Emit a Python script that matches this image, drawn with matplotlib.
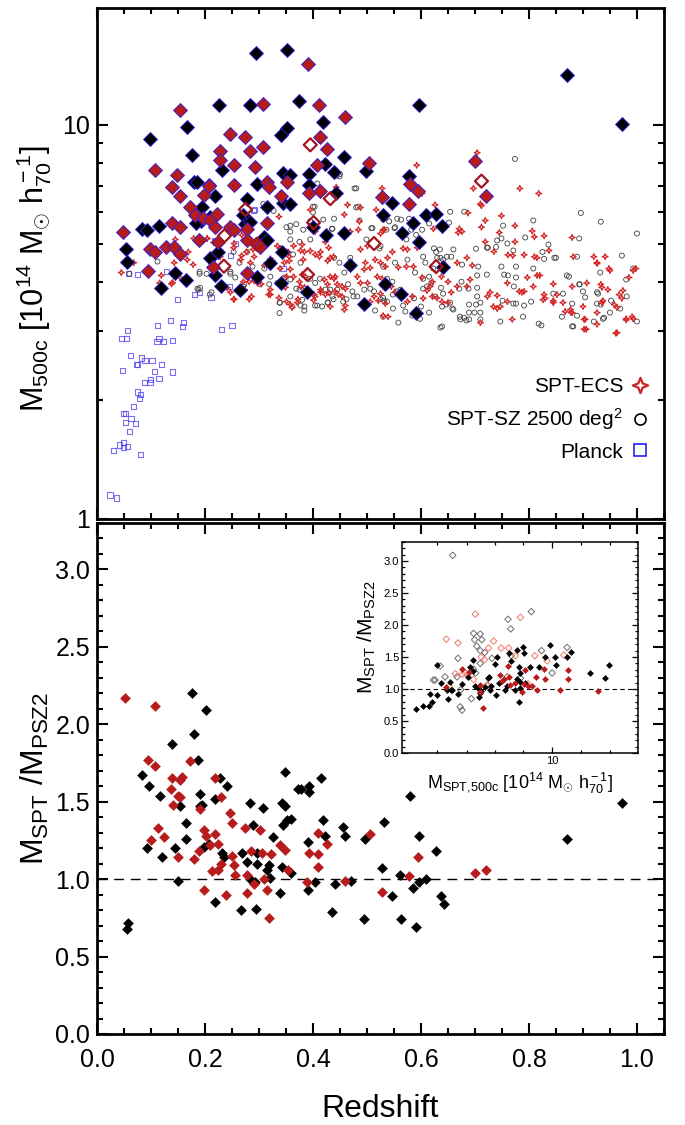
import numpy as np
import matplotlib
matplotlib.use('Agg')
import matplotlib.pyplot as plt
from matplotlib.path import Path
from matplotlib.lines import Line2D
from matplotlib.ticker import MultipleLocator, FormatStrFormatter, NullFormatter

# --- data ---------------------------------------------------------------
# top panel: (redshift, M500c) for the small markers
planck = [(0.024,1.15),(0.036,1.13),(0.030,1.49),(0.041,1.54),(0.049,1.52),(0.049,1.56),(0.056,1.53),
          (0.081,1.46),(0.060,1.67),(0.053,1.76),(0.063,1.80),(0.071,1.75),(0.049,1.85),(0.053,1.85),
          (0.068,1.93),(0.075,2.10),(0.081,2.07),(0.079,2.02),(0.088,2.22),(0.098,2.22),(0.099,2.26),
          (0.115,2.27),(0.106,2.37),(0.140,2.36),(0.047,2.38),(0.062,2.60),(0.073,2.47),(0.075,2.47),
          (0.082,2.56),(0.089,2.53),(0.102,2.53),(0.119,2.47),(0.045,2.87),(0.054,2.87),(0.057,3.01),
          (0.111,2.82),(0.115,2.87),(0.123,2.82),(0.140,2.84),(0.112,3.10),(0.136,3.19),(0.158,3.08),
          (0.160,3.15),(0.230,3.03),(0.250,3.10),(0.149,3.60),(0.180,3.71),(0.190,3.75),(0.211,3.65),
          (0.059,4.19),(0.075,4.17),(0.128,4.24),(0.246,3.89),(0.247,4.67),(0.256,5.0),(0.292,6.1),
          (0.345,4.32),(0.297,4.03),(0.290,6.05),(0.218,5.1)]

spt_sz = [(0.774,8.2),(0.896,5.98),(0.933,5.68),(1.0,5.3),(0.654,6.02),(0.680,6.02),(0.652,5.65),
          (0.808,5.72),(0.752,5.55),(0.893,5.15),(0.793,5.18),(0.749,5.15),(0.741,5.09),(0.760,5.0),
          (0.722,4.88),(0.702,4.85),(0.836,4.97),(0.825,4.76),(0.847,4.6),(0.850,4.6),(0.889,4.63),
          (0.972,4.66),(0.808,4.32),(0.828,4.57),(0.749,4.37),(0.776,4.37),(0.754,4.17),(0.761,4.15),
          (0.776,4.1),(0.772,3.89),(0.776,3.52),(0.771,3.52),(0.706,4.37),(0.704,4.15),(0.722,4.17),
          (0.660,4.83),(0.648,4.63),(0.641,4.55),(0.676,4.42),(0.624,4.86),(0.630,4.6),(0.656,4.63),
          (0.675,4.0),(0.671,3.84),(0.688,3.84),(0.704,3.86),(0.704,3.67),(0.710,3.54),(0.702,3.5),
          (0.689,3.5),(0.710,3.34),(0.699,3.34),(0.689,3.34),(0.680,3.24),(0.689,3.21),(0.672,3.26),
          (0.660,3.4),(0.647,3.5),(0.639,3.46),(0.639,3.08),(0.615,3.34),(0.600,3.46),(0.587,3.63),
          (0.611,3.89),(0.619,3.97),(0.604,3.84),(0.637,3.86),(0.623,4.32),(0.636,4.6),(0.791,3.48),
          (0.804,3.56),(0.818,3.13),(0.823,3.1),(0.861,3.26),(0.863,3.73),(0.880,3.52),(0.880,3.08),
          (0.894,3.94),(0.900,3.78),(0.926,3.76),(0.926,3.52),(0.933,3.5),(0.952,3.58),(0.950,3.34),
          (0.939,3.24),(0.981,3.67),(1.0,3.17),(0.969,3.42),(0.932,4.22),(0.874,4.12),(0.558,3.15),
          (0.598,3.22),(0.571,3.36),(0.584,3.28),(0.567,3.48),(0.548,3.42),(0.537,3.56),(0.530,3.64),
          (0.552,5.5),(0.541,5.69),(0.534,5.8),(0.591,5.26),(0.573,5.12),(0.575,4.55),(0.552,4.47),
          (0.530,4.37),(0.589,4.22),(0.604,4.07),(0.615,4.12),(0.562,3.82),(0.554,3.78),(0.548,3.71),
          (0.537,4.07),(0.547,4.0),(0.604,4.63),(0.608,4.47),(0.626,3.67),(0.641,3.73),(0.654,3.54),
          (0.658,3.42),(0.636,3.06),(0.673,3.21),(0.684,3.19),(0.710,3.21),(0.747,3.17),(0.789,3.26),
          (0.882,3.08),(0.920,3.17),(0.937,3.22),(0.889,3.28),(0.904,3.65),(0.928,3.73),(0.893,3.94),
          (0.980,4.05),(0.993,4.32),(0.870,4.15),(0.845,3.73),(0.751,3.58),
          (0.060,4.19),(0.112,4.5),(0.203,4.19),(0.190,4.19),(0.186,3.84),(0.191,3.86),(0.212,3.76),
          (0.247,4.19),(0.256,4.1),(0.264,4.47),(0.288,4.37),(0.297,4.12),(0.310,4.32),(0.321,4.12),
          (0.319,3.94),(0.339,3.54),(0.347,4.1),(0.358,4.05),(0.369,3.84),(0.375,3.82),(0.351,5.5),
          (0.358,5.36),(0.369,5.6),(0.375,5.05),(0.395,5.7),(0.403,6.2),(0.408,7.1),(0.439,5.78),
          (0.436,5.45),(0.449,7.4),(0.477,6.9),(0.486,5.72),(0.508,5.47),(0.499,5.12),(0.525,4.93),
          (0.523,4.86),(0.439,4.6),(0.449,4.47),(0.469,4.6),(0.458,4.22),(0.465,3.94),(0.445,3.82),
          (0.432,3.82),(0.473,3.78),(0.475,3.67),(0.482,3.67),(0.495,3.82),(0.506,3.84),(0.513,3.78),
          (0.525,3.61),(0.532,3.58),(0.515,3.38),(0.530,3.26),(0.456,3.56),(0.462,3.61),(0.427,3.54),
          (0.436,3.67),(0.380,3.6),(0.377,3.48),(0.384,3.38),(0.408,3.48),(0.362,3.46),(0.302,3.94),
          (0.273,3.94),(0.271,3.89),(0.404,3.97),(0.413,4.07),(0.423,3.82),(0.395,4.07),(0.334,3.97),
          (0.19,4.24),(0.247,4.24),(0.188,3.82),(0.209,3.71),(0.338,3.54),(0.358,3.67),(0.384,3.46),
          (0.404,3.48),(0.417,3.46),(0.428,3.54),(0.438,3.61),(0.338,3.33),(0.308,6.3),(0.327,6.05),
          (0.358,5.55),(0.400,6.2),(0.400,6.0),(0.419,5.75),(0.435,5.45),(0.444,7.44),(0.382,5.42),
          (0.395,5.12),(0.358,5.12),(0.253,4.76),(0.278,4.76),(0.307,4.93),(0.352,4.76),(0.363,4.69),
          (0.377,4.47),(0.45,7.5),(0.48,6.9),(0.48,6.17),(0.483,6.2),(0.51,5.47),(0.53,5.75),
          (0.556,5.78),(0.563,5.75),(0.578,5.78),(0.536,5.42),(0.551,5.47),(0.582,5.42),(0.602,5.42),
          (0.615,5.62),(0.771,4.8),(0.739,4.9),(0.724,4.88),(0.635,4.83),(0.628,4.76)]

spt_ecs = [(0.045,4.22),(0.068,4.47),(0.119,4.15),(0.116,3.97),(0.143,4.47),(0.167,4.55),(0.169,4.76),
           (0.178,4.42),(0.145,5.12),(0.154,4.1),(0.138,3.95),(0.204,5.15),(0.223,4.76),(0.228,4.63),
           (0.214,4.5),(0.254,5.0),(0.268,5.26),(0.277,4.76),(0.266,4.55),(0.284,4.47),(0.291,4.63),
           (0.282,4.0),(0.291,4.02),(0.297,3.97),(0.254,3.61),(0.282,3.61),(0.286,3.67),(0.304,3.95),
           (0.310,4.4),(0.315,4.44),(0.321,4.57),(0.325,4.52),(0.334,4.93),(0.337,5.85),(0.339,4.86),
           (0.354,4.76),(0.356,4.63),(0.321,3.82),(0.321,3.71),(0.337,3.64),(0.356,4.52),(0.358,4.3),
           (0.351,4.12),(0.347,3.97),(0.364,4.12),(0.375,4.0),(0.377,3.89),(0.384,3.87),(0.382,4.55),
           (0.384,4.76),(0.395,4.79),(0.404,4.69),(0.395,6.09),(0.404,5.36),(0.412,4.63),(0.423,5.05),
           (0.427,4.52),(0.432,4.6),(0.432,4.12),(0.439,4.07),(0.441,4.12),(0.421,4.05),(0.427,3.94),
           (0.445,3.94),(0.454,3.89),(0.460,3.84),(0.414,3.82),(0.430,3.75),(0.447,3.71),(0.454,3.67),
           (0.460,3.48),(0.458,3.4),(0.443,6.95),(0.464,6.27),(0.458,5.92),(0.469,5.36),(0.488,6.17),
           (0.486,5.69),(0.484,5.42),(0.488,4.83),(0.501,4.93),(0.497,4.47),(0.506,4.34),(0.495,4.3),
           (0.482,4.12),(0.488,3.97),(0.501,3.97),(0.515,4.55),(0.525,4.47),(0.534,4.37),(0.517,6.09),
           (0.528,6.9),(0.525,5.3),(0.532,5.42),(0.519,4.12),(0.528,4.07),(0.532,3.97),(0.506,3.56),
           (0.513,3.67),(0.521,3.58),(0.380,4.17),(0.386,4.12),(0.358,3.5),(0.371,3.54),(0.404,3.67),
           (0.402,3.71),(0.351,3.56),(0.271,4.0),(0.273,3.82),(0.241,3.86),(0.247,3.76),(0.217,4.37),
           (0.221,4.63),(0.339,4.32),(0.347,4.47),
           (0.704,8.5),(0.592,7.9),(0.783,6.9),(0.818,6.7),(0.697,6.9),(0.712,6.24),(0.626,6.27),
           (0.687,5.98),(0.749,5.88),(0.719,5.72),(0.712,5.5),(0.774,5.55),(0.671,5.45),(0.669,5.33),
           (0.676,5.36),(0.623,5.45),(0.806,5.38),(0.810,5.2),(0.828,5.23),(0.880,5.18),(0.745,5.33),
           (0.719,5.05),(0.735,4.77),(0.774,5.05),(0.761,4.68),(0.770,4.66),(0.791,4.68),(0.810,4.63),
           (0.815,4.6),(0.837,4.8),(0.882,4.63),(0.920,4.63),(0.941,4.63),(0.948,4.32),(0.926,4.47),
           (0.985,4.1),(0.993,4.27),(0.998,4.32),(0.974,3.8),(0.967,3.71),(0.972,3.63),(0.946,3.82),
           (0.933,3.94),(0.935,3.87),(0.907,3.97),(0.880,3.89),(0.863,3.54),(0.852,3.71),(0.845,3.95),
           (0.815,4.15),(0.820,4.15),(0.797,4.1),(0.828,3.71),(0.830,3.63),(0.826,3.6),(0.808,3.89),
           (0.782,3.78),(0.787,3.76),(0.791,3.78),(0.760,3.97),(0.760,3.56),(0.769,3.21),(0.867,3.36),
           (0.880,3.34),(0.902,3.21),(0.902,3.03),(0.926,3.12),(0.963,2.97),(0.980,3.22),(0.993,3.22),
           (0.991,3.26),(0.958,3.5),(0.963,3.44),(0.935,3.54),(0.937,3.58),(0.900,3.46),(0.845,3.54),
           (0.710,3.15),(0.734,3.46),(0.747,3.46),(0.741,3.42),(0.728,3.76),(0.723,3.67),(0.741,3.69),
           (0.685,3.89),(0.691,4.05),(0.667,3.89),(0.650,3.54),(0.656,3.76),(0.639,3.56),(0.630,3.64),
           (0.621,3.67),(0.617,3.89),(0.611,3.8),(0.604,3.63),(0.584,3.67),(0.575,3.56),(0.565,3.64),
           (0.552,3.76),(0.545,3.89),(0.530,3.89),(0.530,3.28),(0.539,3.26),(0.525,3.73),(0.534,3.52),
           (0.538,4.6),(0.547,4.76),(0.530,5.42),(0.567,4.86),(0.575,4.83),(0.593,4.88),(0.558,4.35),
           (0.573,4.37),(0.586,4.37),(0.602,4.1),(0.621,4.0),(0.638,4.12),(0.650,4.0),(0.667,4.47),
           (0.685,4.6),(0.695,4.4),(0.926,4.45),(0.950,4.27),(0.98,3.2),(0.961,2.96),(0.904,3.21),
           (0.906,3.03),(0.926,3.34),(0.877,3.4),(0.878,3.34),(0.845,3.58),(0.602,6.7),(0.710,6.3),
           (0.14,3.98),(0.253,3.61),(0.318,3.71),(0.349,3.87),(0.361,3.44),(0.372,3.61),(0.401,3.59),
           (0.414,3.76),(0.423,3.71),(0.432,3.46),(0.441,3.78),(0.179,5.15),(0.204,5.15),(0.216,5.03),
           (0.253,4.88),(0.268,4.66),(0.289,4.83),(0.364,4.93),(0.377,4.8),(0.380,4.97),(0.414,4.76),
           (0.429,4.88),(0.438,4.63)]

# big diamonds: clusters also in Planck
match_sz = [(0.295,15.2),(0.351,15.5),(0.375,11.5),(0.226,11.2),(0.283,11.2),(0.166,9.9),(0.098,9.2),
            (0.419,10.2),(0.351,9.8),(0.340,9.4),(0.176,8.4),(0.232,7.7),(0.423,7.95),(0.438,7.6),
            (0.179,7.15),(0.185,7.15),(0.296,7.1),(0.344,7.55),(0.358,7.45),(0.393,7.5),(0.393,7.05),
            (0.195,6.2),(0.219,6.6),(0.278,6.5),(0.315,6.2),(0.345,6.35),(0.358,6.3),(0.271,5.9),
            (0.400,5.5),(0.084,5.45),(0.093,5.4),(0.114,5.55),(0.192,5.7),(0.309,5.2),(0.315,5.1),
            (0.424,5.25),(0.054,4.85),(0.056,4.5),(0.210,4.6),(0.225,4.75),(0.343,4.75),(0.145,4.2),
            (0.165,4.05),(0.119,3.85),(0.219,4.15),(0.229,3.9),(0.265,3.8),(0.297,4.1),(0.320,4.47),
            (0.340,3.98),(0.389,3.76),(0.871,13.4),(0.972,10.06),(0.597,11.2),(0.458,8.3),(0.499,7.65),
            (0.578,7.4),(0.547,6.35),(0.530,5.9),(0.610,5.9),(0.628,5.95),(0.586,5.65),(0.638,5.55),
            (0.564,5.33),(0.597,5.05),(0.458,5.33),(0.469,4.4),(0.641,4.37),(0.534,3.94),(0.563,3.73),
            (0.495,3.52),(0.591,3.34),(0.443,6.7),(0.184,5.65),(0.210,5.85),(0.275,5.6),(0.284,5.67)]

match_ecs = [(0.390,14.3),(0.412,11.2),(0.153,10.9),(0.307,11.3),(0.246,9.5),(0.274,9.3),(0.413,9.3),
             (0.283,8.6),(0.307,8.8),(0.426,8.7),(0.228,8.6),(0.228,8.15),(0.253,7.9),(0.293,7.8),
             (0.108,7.7),(0.407,7.9),(0.149,7.45),(0.208,7.05),(0.138,6.95),(0.253,7.05),(0.315,7.15),
             (0.319,6.95),(0.351,7.15),(0.340,6.6),(0.393,6.7),(0.413,6.8),(0.154,6.6),(0.173,6.2),
             (0.182,5.9),(0.197,5.8),(0.210,5.75),(0.222,5.95),(0.315,5.65),(0.049,5.36),(0.139,5.65),
             (0.154,5.5),(0.219,5.5),(0.247,5.5),(0.253,5.4),(0.277,5.45),(0.098,4.85),(0.107,4.75),
             (0.127,4.9),(0.142,4.9),(0.153,4.7),(0.188,5.1),(0.278,5.1),(0.297,5.0),(0.302,4.9),
             (0.095,4.25),(0.215,4.35),(0.278,4.2),(0.460,10.5),(0.504,8.0),(0.700,8.1),(0.721,6.6),
             (0.580,7.1),(0.595,6.8),(0.528,6.55),(0.578,6.3),(0.207,7.0),(0.199,6.65),(0.225,5.03)]

match_open = [(0.395,8.9),(0.432,6.5),(0.275,6.1),(0.401,5.65),(0.235,4.38),(0.390,4.17),(0.712,7.2),
              (0.513,5.0),(0.628,4.37),(0.236,5.23),(0.296,4.98)]

# bottom panel: (redshift, M_SPT / M_PSZ2)
ratio_sz = [(0.176,2.20),(0.201,2.09),(0.179,1.94),(0.139,1.87),(0.187,1.77),(0.084,1.67),(0.097,1.60),
            (0.227,1.65),(0.241,1.60),(0.117,1.54),(0.191,1.55),(0.154,1.47),(0.195,1.48),(0.219,1.52),
            (0.283,1.49),(0.307,1.46),(0.343,1.49),(0.349,1.47),(0.349,1.69),(0.373,1.58),(0.093,1.20),
            (0.121,1.14),(0.145,1.20),(0.150,0.99),(0.164,1.26),(0.165,1.36),(0.190,1.47),(0.198,1.21),
            (0.207,1.23),(0.219,0.85),(0.232,1.17),(0.235,1.14),(0.269,1.17),(0.267,0.80),(0.278,1.11),
            (0.289,1.35),(0.283,1.00),(0.296,1.17),(0.296,1.10),(0.293,0.98),(0.295,0.81),(0.315,1.06),
            (0.318,1.09),(0.321,1.01),(0.326,1.27),(0.339,0.91),(0.345,1.35),(0.351,1.38),(0.359,1.39),
            (0.359,1.04),(0.343,1.08),(0.390,1.24),(0.390,0.93),(0.404,0.98),(0.423,1.28),(0.418,1.38),
            (0.435,0.79),(0.441,0.97),(0.455,1.34),(0.460,1.28),(0.470,0.99),(0.532,1.37),(0.497,1.26),
            (0.495,0.74),(0.528,1.07),(0.546,0.89),(0.562,1.03),(0.563,0.74),(0.585,0.94),(0.591,0.69),
            (0.596,1.28),(0.597,0.98),(0.610,1.00),(0.628,1.18),(0.637,0.89),(0.642,0.84),(0.870,1.26),
            (0.973,1.49),(0.057,0.72),(0.055,0.68),(0.415,1.65),(0.377,1.58),(0.392,1.60),(0.392,1.56),
            (0.580,1.54)]

ratio_ecs = [(0.051,2.17),(0.107,2.12),(0.095,1.77),(0.107,1.73),(0.172,1.76),(0.139,1.65),(0.158,1.66),
             (0.154,1.64),(0.219,1.65),(0.137,1.58),(0.150,1.54),(0.154,1.53),(0.230,1.53),(0.140,1.48),
             (0.191,1.45),(0.247,1.43),(0.100,1.25),(0.113,1.33),(0.125,1.27),(0.150,1.14),(0.179,1.13),
             (0.188,1.18),(0.198,1.32),(0.202,1.28),(0.198,0.93),(0.213,1.05),(0.209,1.22),(0.218,1.29),
             (0.225,1.23),(0.230,1.10),(0.225,1.06),(0.238,0.90),(0.250,1.36),(0.250,1.15),(0.253,1.09),
             (0.255,1.03),(0.277,0.91),(0.278,1.03),(0.275,1.33),(0.285,1.18),(0.302,1.32),(0.291,0.97),
             (0.309,1.00),(0.315,0.93),(0.306,1.17),(0.322,1.16),(0.318,0.75),(0.338,1.22),(0.349,1.19),
             (0.353,1.06),(0.392,1.17),(0.389,0.98),(0.410,1.16),(0.410,1.30),(0.409,1.08),(0.426,1.23),
             (0.460,0.99),(0.505,1.29),(0.528,0.92),(0.578,1.02),(0.594,1.14),(0.700,1.04),(0.721,1.06)]

# inset: (M_SPT, ratio)
inset_sz = [(2.32,0.68),(2.49,0.73),(2.68,0.73),(2.77,0.80),(2.7,0.92),(2.91,0.91),(2.91,1.38),(3.05,1.10),
            (3.27,0.84),(3.39,0.99),(3.41,0.98),(3.80,1.08),(4.05,1.19),(4.12,1.34),(4.26,1.46),(4.27,1.28),
            (4.38,1.04),(4.5,1.02),(4.62,0.93),(4.67,0.97),(4.87,1.03),(5.0,1.17),(5.05,1.19),(5.2,1.04),
            (5.39,1.39),(5.53,1.50),(5.48,0.91),(5.66,1.09),(6.0,0.98),(6.16,1.04),(6.26,1.57),(6.44,1.44),
            (6.73,0.99),(6.85,1.61),(6.85,1.15),(6.97,0.79),(7.1,1.01),(7.04,1.11),(7.35,1.57),(6.97,1.35),
            (7.1,1.25),(7.43,1.09),(7.9,1.35),(7.27,1.65),(8.63,1.35),(9.2,1.50),(9.7,1.69),(10.25,1.50),
            (10.4,1.38),(11.7,1.50),(12.2,1.58),(15.0,1.25),(17.6,1.17),(18.3,1.38),(3.24,0.98),(3.35,1.11),
            (3.64,0.92),(4.57,0.88),(5.15,0.98)]
inset_ecs = [(3.21,1.03),(3.82,1.31),(4.1,1.27),(4.62,0.95),(4.74,0.70),(4.62,1.06),(5.73,1.22),(5.85,1.13),
             (5.95,1.15),(6.22,1.36),(6.26,1.18),(6.37,1.06),(6.73,1.09),(7.43,1.29),(7.35,1.08),(7.7,1.04),
             (7.2,0.96),(8.05,1.04),(8.4,1.19),(8.5,0.98),(9.1,1.32),(9.2,1.15),(10.9,0.99),(11.8,1.30),
             (11.8,1.15),(16.3,0.97)]
inset_sz_open = [(3.44,3.09),(7.98,2.21),(6.22,2.09),(6.4,1.94),(4.3,1.87),(4.62,1.86),(4.35,1.77),(4.7,1.77),
                 (4.45,1.67),(4.62,1.60),(4.84,1.57),(3.64,1.48),(3.01,1.36),(3.17,1.19),(2.85,1.14),(2.8,1.14),
                 (3.6,1.19),(3.75,0.99),(3.73,0.72),(3.8,0.67),(4.2,0.85),(4.3,1.31),(4.4,1.25),(4.62,1.40),
                 (5.24,1.48),(5.0,1.06),(6.16,1.19),(7.1,1.17),(8.9,1.60),(9.97,1.25),(11.7,1.65),(6.44,1.52)]
inset_ecs_open = [(4.38,2.17),(3.21,1.78),(3.64,1.72),(7.1,2.12),(5.33,1.75),(5.05,1.64),(5.78,1.64),(6.26,1.64),
                  (4.67,1.50),(4.84,1.46),(3.93,1.25),(4.05,1.23),(3.82,1.23),(4.3,1.15),(4.95,1.06),(7.7,1.08),
                  (8.28,1.52),(9.45,1.44),(11.3,1.53),(6.73,1.52),(3.32,1.04),(3.54,1.24)]

legend_labels = ['SPT-ECS', 'SPT-SZ 2500 deg$^2$', 'Planck']

# --- style ---------------------------------------------------------------
plt.rcParams['font.family'] = 'Liberation Sans'
plt.rcParams['mathtext.fontset'] = 'custom'
plt.rcParams['mathtext.rm'] = 'Liberation Sans'
plt.rcParams['mathtext.it'] = 'Liberation Sans:italic'
plt.rcParams['mathtext.bf'] = 'Liberation Sans:bold'

RED = '#b81b1b'
STAR = Path.unit_regular_star(4, 0.4)

def xy(pairs):
    a = np.array(pairs, dtype=float)
    return a[:, 0], a[:, 1]

def style_axis(ax, big=True):
    for sp in ax.spines.values():
        sp.set_linewidth(2.0 if big else 1.1)
    ax.tick_params(which='both', direction='in', top=True, right=True,
                   width=1.5 if big else 0.9)
    ax.tick_params(which='major', length=8 if big else 4)
    ax.tick_params(which='minor', length=4 if big else 2)

fig = plt.figure(figsize=(6.85, 11.25), dpi=100)
ax1 = fig.add_axes([0.1416, 0.5387, 0.8277, 0.4542])
ax2 = fig.add_axes([0.1416, 0.0809, 0.8277, 0.4542])
ax3 = fig.add_axes([0.5869, 0.3307, 0.3445, 0.1876])

# top panel
z, m = xy(planck)
ax1.scatter(z, m, marker='s', s=14, facecolors='none', edgecolors='#4d3ff2', linewidths=0.8, alpha=0.75, zorder=2)
z, m = xy(spt_sz)
ax1.scatter(z, m, marker='o', s=13, facecolors='none', edgecolors='#404040', linewidths=0.6, zorder=3)
z, m = xy(spt_ecs)
ax1.scatter(z, m, marker=STAR, s=18, facecolors='none', edgecolors='#d42626', linewidths=0.9, zorder=4)
z, m = xy(match_sz)
ax1.scatter(z, m, marker='D', s=50, facecolors='black', edgecolors='#2b1fd0', linewidths=0.7, zorder=5)
z, m = xy(match_ecs)
ax1.scatter(z, m, marker='D', s=50, facecolors=RED, edgecolors='#3a22cc', linewidths=0.7, zorder=6)
z, m = xy(match_open)
ax1.scatter(z, m, marker='D', s=44, facecolors='none', edgecolors='#a31621', linewidths=1.6, zorder=7)

ax1.set_yscale('log')
ax1.set_xlim(0, 1.05)
ax1.set_ylim(1, 19.8)
ax1.set_yticks([1, 10])
ax1.set_yticklabels(['1', '10'])
ax1.set_yticks([2, 3, 4, 5, 6, 7, 8, 9], minor=True)
ax1.yaxis.set_minor_formatter(NullFormatter())
ax1.xaxis.set_major_locator(MultipleLocator(0.2))
ax1.xaxis.set_minor_locator(MultipleLocator(0.05))
ax1.tick_params(axis='x', labelbottom=False)
ax1.tick_params(axis='y', labelsize=18, pad=5)
style_axis(ax1)
ax1.set_ylabel(r'M$_{\rm 500c}$ [10$^{\rm 14}$ M$_{\odot}$ h$_{\rm 70}^{\rm -1}$]', fontsize=22)
ax1.yaxis.set_label_coords(-0.076, 0.47)

handles = [Line2D([], [], ls='none', marker=STAR, ms=11, mfc='white', mec='#cc2222', mew=1.6),
           Line2D([], [], ls='none', marker='o', ms=8, mfc='none', mec='black', mew=1.2),
           Line2D([], [], ls='none', marker='s', ms=8.5, mfc='none', mec='#2222ee', mew=1.2)]
ax1.legend(handles, legend_labels, loc='upper right', bbox_to_anchor=(0.972, 0.278), frameon=False,
           markerfirst=False, fontsize=15, handlelength=0.8, handletextpad=0.4, labelspacing=0.5,
           borderpad=0, borderaxespad=0)

# bottom panel
z, r = xy(ratio_sz)
ax2.scatter(z, r, marker='D', s=30, color='black', linewidths=0, zorder=3)
z, r = xy(ratio_ecs)
ax2.scatter(z, r, marker='D', s=30, color=RED, linewidths=0, zorder=4)
ax2.axhline(1.0, color='black', lw=1.0, ls=(0, (7, 5)), zorder=2)
ax2.set_xlim(0, 1.05)
ax2.set_ylim(0, 3.3)
ax2.xaxis.set_major_locator(MultipleLocator(0.2))
ax2.xaxis.set_minor_locator(MultipleLocator(0.05))
ax2.yaxis.set_major_locator(MultipleLocator(0.5))
ax2.yaxis.set_minor_locator(MultipleLocator(0.1))
ax2.xaxis.set_major_formatter(FormatStrFormatter('%.1f'))
ax2.yaxis.set_major_formatter(FormatStrFormatter('%.1f'))
style_axis(ax2)
ax2.tick_params(axis='x', labelsize=18, pad=10)
ax2.tick_params(axis='y', labelsize=18, pad=5)
ax2.set_xlabel('Redshift', fontsize=23, labelpad=16)
ax2.set_ylabel(r'M$_{\rm SPT}$ /M$_{\rm PSZ2}$', fontsize=23)
ax2.yaxis.set_label_coords(-0.082, 0.5)

# inset
mm, r = xy(inset_sz_open)
ax3.scatter(mm, r, marker='D', s=11, facecolors='none', edgecolors='#6e6e6e', linewidths=0.7, zorder=2)
mm, r = xy(inset_ecs_open)
ax3.scatter(mm, r, marker='D', s=11, facecolors='none', edgecolors='#f07a6a', linewidths=0.7, zorder=2)
mm, r = xy(inset_sz)
ax3.scatter(mm, r, marker='D', s=12, color='black', linewidths=0, zorder=3)
mm, r = xy(inset_ecs)
ax3.scatter(mm, r, marker='D', s=12, color=RED, linewidths=0, zorder=4)
ax3.axhline(1.0, color='black', lw=0.8, ls=(0, (4, 3)), zorder=1)
ax3.set_xscale('log')
ax3.set_xlim(2, 25)
ax3.set_ylim(0, 3.3)
ax3.set_xticks([10])
ax3.set_xticklabels(['10'])
ax3.set_xticks([2.9, 4.0, 5.4, 7.3, 13.6, 18.5], minor=True)
ax3.xaxis.set_minor_formatter(NullFormatter())
ax3.yaxis.set_major_locator(MultipleLocator(0.5))
ax3.yaxis.set_minor_locator(MultipleLocator(0.1))
ax3.yaxis.set_major_formatter(FormatStrFormatter('%.1f'))
style_axis(ax3, big=False)
ax3.tick_params(labelsize=8, pad=2)
ax3.set_xlabel(r'M$_{\rm SPT{,}500c}$ [10$^{\rm 14}$ M$_{\odot}$ h$_{\rm 70}^{\rm -1}$]', fontsize=13)
ax3.xaxis.set_label_coords(0.5, -0.08)
ax3.set_ylabel(r'M$_{\rm SPT}$ /M$_{\rm PSZ2}$', fontsize=15)
ax3.yaxis.set_label_coords(-0.1, 0.55)

fig.savefig('out.png', dpi=100)
